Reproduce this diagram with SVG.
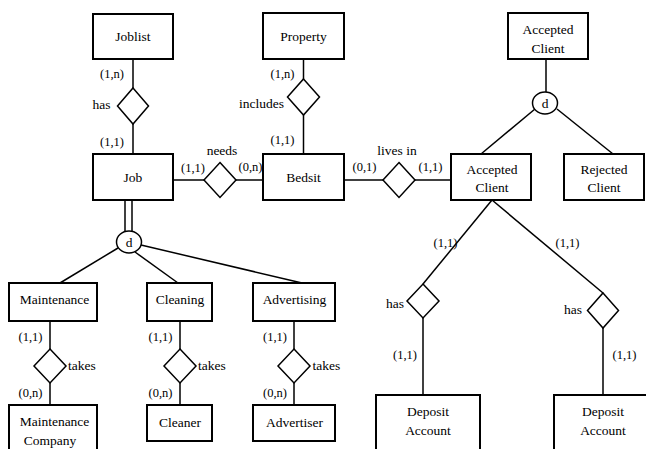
<svg xmlns="http://www.w3.org/2000/svg" width="646" height="449" viewBox="0 0 646 449" style="font-family:'Times New Roman','Liberation Serif','DejaVu Serif',serif">
<style>
.ent{fill:#fff;stroke:#000;stroke-width:2}
.rel{fill:#fff;stroke:#000;stroke-width:1.5}
.ln{stroke:#000;stroke-width:1.5;fill:none}
text{font-family:'Times New Roman','Liberation Serif','DejaVu Serif',serif}
.n{font-size:13.5px;text-anchor:middle}
.c{font-size:12.5px;text-anchor:middle}
.l{font-size:13.5px;text-anchor:middle}
.ls{font-size:13.5px;text-anchor:start}
</style>
<rect width="646" height="449" fill="#fff"/>
<g id="connectors">
<line class="ln" x1="133" y1="59" x2="133" y2="88"/>
<line class="ln" x1="133" y1="124" x2="133" y2="154"/>
<line class="ln" x1="303.5" y1="59" x2="303.5" y2="79"/>
<line class="ln" x1="303.5" y1="115" x2="303.5" y2="154"/>
<line class="ln" x1="173" y1="180" x2="204" y2="180"/>
<line class="ln" x1="236" y1="180" x2="263" y2="180"/>
<line class="ln" x1="344" y1="180" x2="383" y2="180"/>
<line class="ln" x1="415" y1="180" x2="451" y2="180"/>
<line class="ln" x1="546" y1="59" x2="546" y2="92"/>
<line class="ln" x1="535" y1="109" x2="481" y2="154"/>
<line class="ln" x1="557" y1="109" x2="613" y2="154"/>
<line class="ln" x1="492" y1="200" x2="423" y2="284"/>
<line class="ln" x1="492" y1="200" x2="603" y2="293"/>
<line class="ln" x1="423" y1="318" x2="423" y2="395"/>
<line class="ln" x1="603" y1="328" x2="603" y2="395"/>
<line class="ln" x1="125" y1="200" x2="125" y2="232"/>
<line class="ln" x1="132" y1="200" x2="132" y2="231"/>
<line class="ln" x1="118" y1="248" x2="60" y2="283"/>
<line class="ln" x1="135" y1="252" x2="178" y2="283"/>
<line class="ln" x1="141" y1="245" x2="302" y2="283"/>
<line class="ln" x1="50" y1="321" x2="50" y2="349"/>
<line class="ln" x1="50" y1="383" x2="50" y2="405"/>
<line class="ln" x1="180" y1="321" x2="180" y2="349"/>
<line class="ln" x1="180" y1="383" x2="180" y2="405"/>
<line class="ln" x1="294" y1="321" x2="294" y2="349"/>
<line class="ln" x1="294" y1="383" x2="294" y2="405"/>
</g>
<g id="joblist"><rect class="ent" x="93" y="14" width="80" height="45"/><text class="n" x="133" y="41">Joblist</text></g>
<g id="rel-has-job"><polygon class="rel" points="133,88 148.5,106 133,124 117.5,106"/></g>
<g id="job"><rect class="ent" x="93" y="154" width="80" height="46"/><text class="n" x="133" y="182">Job</text></g>
<g id="property"><rect class="ent" x="263" y="13" width="81" height="46"/><text class="n" x="303.5" y="41">Property</text></g>
<g id="rel-includes"><polygon class="rel" points="303.5,79 319.5,97 303.5,115 287.5,97"/></g>
<g id="bedsit"><rect class="ent" x="263" y="154" width="81" height="46"/><text class="n" x="303.5" y="182">Bedsit</text></g>
<g id="rel-needs"><polygon class="rel" points="220,162.5 236,180 220,197.5 204,180"/></g>
<g id="rel-livesin"><polygon class="rel" points="399,162.5 415,180 399,197.5 383,180"/></g>
<g id="accepted-client-top"><rect class="ent" x="508" y="13" width="80" height="46"/><text class="n" x="548" y="33.5">Accepted</text><text class="n" x="548" y="52.5">Client</text></g>
<g id="disjoint-client"><ellipse class="rel" cx="545" cy="103" rx="12.5" ry="11"/><text class="n" x="545" y="107.5">d</text></g>
<g id="accepted-client"><rect class="ent" x="451" y="154" width="80" height="46"/><text class="n" x="492" y="173.5">Accepted</text><text class="n" x="492" y="191.5">Client</text></g>
<g id="rejected-client"><rect class="ent" x="564" y="154" width="80" height="46"/><text class="n" x="604" y="173.5">Rejected</text><text class="n" x="604" y="191.5">Client</text></g>
<g id="rel-has-dep1"><polygon class="rel" points="423,284 439,301 423,318 407,301"/></g>
<g id="rel-has-dep2"><polygon class="rel" points="603,293 618.5,310.5 603,328 587.5,310.5"/></g>
<g id="deposit1"><rect class="ent" x="376" y="395" width="104" height="70"/><text class="n" x="428" y="416">Deposit</text><text class="n" x="428" y="434.5">Account</text></g>
<g id="deposit2"><rect class="ent" x="554" y="395" width="104" height="70"/><text class="n" x="603" y="416">Deposit</text><text class="n" x="603" y="434.5">Account</text></g>
<g id="disjoint-job"><ellipse class="rel" cx="129" cy="242" rx="12.5" ry="11"/><text class="n" x="129" y="246.5">d</text></g>
<g id="maintenance"><rect class="ent" x="9" y="283" width="88" height="38"/><text class="n" x="54.5" y="303.5">Maintenance</text></g>
<g id="cleaning"><rect class="ent" x="147" y="283" width="65" height="38"/><text class="n" x="180" y="303.5">Cleaning</text></g>
<g id="advertising"><rect class="ent" x="253" y="283" width="82" height="38"/><text class="n" x="294.5" y="303.5">Advertising</text></g>
<g id="rel-takes1"><polygon class="rel" points="50,349 66,366 50,383 34,366"/></g>
<g id="rel-takes2"><polygon class="rel" points="180,349 196,366 180,383 164,366"/></g>
<g id="rel-takes3"><polygon class="rel" points="294,349 310,366 294,383 278,366"/></g>
<g id="maintenance-company"><rect class="ent" x="9" y="405" width="88" height="60"/><text class="n" x="54.5" y="426">Maintenance</text><text class="n" x="50" y="444.5">Company</text></g>
<g id="cleaner"><rect class="ent" x="147" y="405" width="65" height="36"/><text class="n" x="180" y="427">Cleaner</text></g>
<g id="advertiser"><rect class="ent" x="253" y="405" width="82" height="36"/><text class="n" x="294.5" y="427">Advertiser</text></g>
<g id="labels">
<text class="c" x="112" y="78">(1,n)</text>
<text class="l" x="101.5" y="108.5">has</text>
<text class="c" x="112" y="146">(1,1)</text>
<text class="c" x="282.5" y="78">(1,n)</text>
<text class="l" x="261.5" y="107.5">includes</text>
<text class="c" x="282.5" y="144">(1,1)</text>
<text class="l" x="222" y="155">needs</text>
<text class="c" x="193" y="172">(1,1)</text>
<text class="c" x="250.5" y="171">(0,n)</text>
<text class="l" x="397" y="155">lives in</text>
<text class="c" x="364.5" y="171">(0,1)</text>
<text class="c" x="430.5" y="171">(1,1)</text>
<text class="c" x="445.5" y="247">(1,1)</text>
<text class="c" x="567.5" y="247">(1,1)</text>
<text class="l" x="395" y="307.5">has</text>
<text class="l" x="573" y="313.5">has</text>
<text class="c" x="405" y="359">(1,1)</text>
<text class="c" x="624.5" y="359">(1,1)</text>
<text class="c" x="30.5" y="341">(1,1)</text>
<text class="c" x="160.5" y="341">(1,1)</text>
<text class="c" x="275" y="341">(1,1)</text>
<text class="ls" x="68" y="369.5">takes</text>
<text class="ls" x="198" y="369.5">takes</text>
<text class="ls" x="312.5" y="369.5">takes</text>
<text class="c" x="30.5" y="397">(0,n)</text>
<text class="c" x="160.5" y="397">(0,n)</text>
<text class="c" x="275" y="397">(0,n)</text>
</g>
</svg>
